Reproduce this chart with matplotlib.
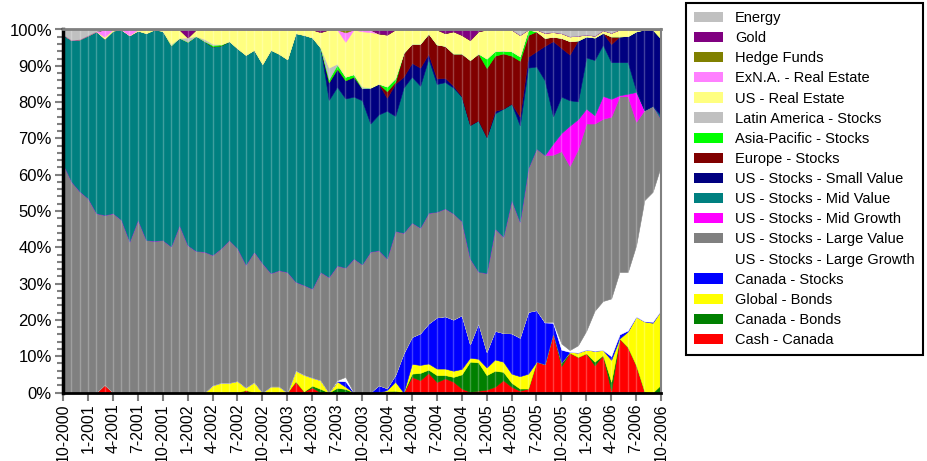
import numpy as np
import matplotlib
matplotlib.use("Agg")
import matplotlib.pyplot as plt
from matplotlib.patches import Patch

plt.rcParams['font.family'] = ['Liberation Sans', 'DejaVu Sans']

months = np.arange(73)  # 10-2000 .. 10-2006, monthly
tick_labels = ["10-2000", "1-2001", "4-2001", "7-2001", "10-2001", "1-2002", "4-2002",
               "7-2002", "10-2002", "1-2003", "4-2003", "7-2003", "10-2003", "1-2004",
               "4-2004", "7-2004", "10-2004", "1-2005", "4-2005", "7-2005", "10-2005",
               "1-2006", "4-2006", "7-2006", "10-2006"]

cash_canada = [
    0, 0, 0, 0, 0, 2.2, 0, 0, 0, 0, 0, 0,
    0, 0, 0, 0, 0, 0, 0, 0, 0, 0, 0.7, 0,
    0, 0, 0, 0, 3.1, 0.3, 1.4, 0, 0, 0, 0, 0,
    0, 0, 0, 0.4, 0, 0, 4.3, 3.4, 5.4, 2.9, 3.9, 3.0,
    1.1, 0.2, 0.5, 0.8, 1.6, 3.4, 1.6, 0.5, 1.1, 8.5, 7.8, 16.3,
    7.3, 11.0, 9.8, 10.8, 7.5, 10.3, 0.5, 14.9, 12.5, 7.5, 0.3, 0,
    0]
canada_bonds = [
    0, 0, 0, 0, 0, 0, 0, 0, 0, 0, 0, 0,
    0, 0, 0, 0, 0, 0, 0, 0, 0, 0, 0, 0,
    0, 0, 0, 0, 0, 0, 0.5, 1.0, 0, 1.3, 1.0, 0,
    0, 0, 0, 0, 0.5, 0, 0.9, 2.0, 0.9, 1.9, 0.9, 1.3,
    3.9, 8.3, 7.8, 4.0, 4.4, 2.3, 1.1, 0.6, 0, 0, 0, 0,
    0.9, 0, 0, 0, 1.0, 0, 2.5, 0, 0, 0, 0, 0,
    2.2]
global_bonds = [
    0, 0, 0, 0, 0, 0, 0, 0, 0, 0, 0, 0,
    0, 0, 0, 0, 0, 0, 2.0, 2.7, 2.7, 3.2, 0.7, 2.9,
    0, 1.7, 1.7, 0, 3.0, 4.6, 2.2, 2.4, 0, 1.8, 0.6, 0,
    0, 0, 0, 0.3, 2.5, 0, 2.7, 2.2, 1.7, 1.8, 1.8, 1.7,
    1.5, 1.1, 1.0, 2.1, 3.1, 2.8, 2.5, 3.4, 4.1, 0, 0, 0,
    0, 0.2, 1.2, 1.0, 3.0, 1.4, 6.0, 0, 4.3, 13.4, 19.3, 19.2,
    20.5]
canada_stocks = [
    0, 0, 0, 0, 0, 0, 0, 0, 0, 0, 0, 0,
    0, 0, 0, 0, 0, 0, 0, 0, 0, 0, 0, 0,
    0, 0, 0, 0, 0, 0, 0, 0, 0, 0.1, 1.5, 0,
    0, 0, 2.0, 0.5, 1.8, 10.8, 7.4, 8.7, 11.0, 14.1, 14.4, 14.1,
    14.8, 3.7, 9.8, 4.3, 7.9, 7.9, 11.1, 10.6, 17.0, 14.2, 11.5, 2.9,
    3.6, 0, 0, 0, 0, 0, 1.0, 1.1, 0.3, 0, 0, 0.3,
    0]
us_large_growth = [
    0, 0, 0, 0, 0, 0, 0, 0, 0, 0, 0, 0,
    0, 0, 0, 0, 0, 0, 0, 0, 0, 0, 0, 0,
    0, 0, 0, 0, 0, 0, 0, 0, 0, 0.2, 1.2, 0,
    0, 0, 0, 0, 0, 0, 0, 0, 0, 0, 0, 0,
    0, 0, 0, 0, 0, 0, 0, 0, 0, 0, 0.1, 0.3,
    1.7, 0.5, 2.0, 5.2, 11.0, 13.5, 15.9, 17.2, 16.1, 19.6, 33.4, 35.8,
    39.8]
us_large_value = [
    63.0, 58.1, 55.4, 53.5, 49.4, 46.7, 49.4, 47.6, 41.6, 47.6, 42.0, 41.8,
    42.0, 40.2, 46.1, 40.6, 39.0, 38.8, 35.9, 37.0, 39.3, 36.5, 33.8, 35.9,
    35.6, 31.2, 32.0, 33.2, 24.4, 24.7, 24.5, 29.8, 31.8, 31.6, 30.1, 36.9,
    35.3, 38.8, 37.2, 35.7, 39.7, 33.2, 31.5, 29.1, 30.5, 29.1, 29.7, 29.2,
    25.9, 23.6, 14.2, 21.7, 28.2, 26.5, 36.7, 31.9, 39.6, 44.5, 46.0, 46.0,
    53.0, 50.7, 54.0, 57.1, 51.6, 50.2, 50.1, 48.4, 48.4, 34.1, 24.8, 23.7,
    12.7]
us_mid_growth = [
    0, 0, 0, 0, 0, 0, 0, 0, 0, 0, 0, 0,
    0, 0, 0, 0, 0, 0, 0, 0, 0, 0, 0, 0,
    0, 0, 0, 0, 0, 0, 0, 0, 0, 0, 0, 0,
    0, 0, 0, 0, 0, 0, 0, 0, 0, 0, 0, 0,
    0, 0, 0, 0, 0, 0, 0, 0, 0, 0, 0, 3.1,
    5.0, 11.1, 8.3, 4.1, 2.3, 6.3, 4.9, 0.3, 0.7, 8.2, 0, 0,
    0]
us_mid_value = [
    35.6, 39.0, 41.9, 44.9, 50.1, 48.6, 50.3, 52.4, 56.8, 52.1, 57.0, 58.2,
    57.6, 55.3, 51.6, 56.0, 59.2, 58.0, 57.4, 55.9, 54.8, 55.1, 57.8, 55.6,
    54.9, 61.5, 59.6, 58.6, 68.5, 68.9, 69.2, 61.8, 48.8, 49.2, 46.6, 44.6,
    45.2, 35.3, 37.4, 40.7, 31.7, 40.0, 40.2, 39.1, 42.5, 35.2, 34.8, 34.7,
    34.3, 36.8, 41.7, 37.5, 31.7, 35.3, 26.6, 26.6, 27.7, 22.6, 20.6, 7.5,
    10.0, 7.0, 4.9, 14.1, 15.2, 14.1, 10.1, 9.1, 8.7, 0.4, 0, 0,
    1.0]
us_small_value = [
    0, 0, 0, 0, 0, 0, 0, 0, 0, 0, 0, 0,
    0, 0, 0, 0, 0, 0, 0, 0, 0, 0, 0, 0,
    0, 0, 0, 0, 0, 0, 0, 0, 4.9, 5.0, 5.0, 5.5,
    3.3, 9.9, 8.5, 3.6, 8.9, 3.0, 3.8, 5.0, 1.3, 1.5, 1.2, 0.5,
    0.1, 0, 0, 0, 0.7, 0, 0, 2.4, 3.0, 4.2, 9.5, 20.7,
    13.4, 12.6, 16.8, 5.8, 6.2, 3.3, 5.0, 7.1, 7.2, 16.3, 22.2, 21.0,
    21.3]
europe_stocks = [
    0, 0, 0, 0, 0, 0, 0, 0, 0, 0, 0, 0,
    0, 0, 0, 0, 0, 0, 0, 0, 0, 0, 0, 0,
    0, 0, 0, 0, 0, 0, 0, 0, 0, 0, 0, 0,
    0, 0, 0, 1.8, 0.5, 6.6, 5.3, 6.6, 5.6, 9.4, 8.8, 8.9,
    11.8, 17.9, 18.4, 19.0, 15.2, 15.2, 13.2, 15.4, 6.0, 5.5, 2.2, 1.2,
    2.8, 3.7, 0, 0, 0, 0, 2.1, 0, 0, 0, 0, 0,
    0]
asia_pacific = [
    0, 0, 0, 0, 0, 0, 0, 0, 0, 0, 0, 0,
    0, 0, 0, 0, 0, 0, 0.4, 0.3, 0, 0, 0, 0,
    0, 0, 0, 0, 0, 0, 0, 0, 0.8, 1.1, 1.0, 0.7,
    0, 0, 0, 1.3, 1.0, 0, 0, 0, 0, 0, 0, 0,
    0, 0, 0, 2.6, 1.3, 0.8, 1.2, 1.2, 1.5, 0, 0, 0,
    0, 0, 0, 0, 0, 0, 0, 0, 0, 0, 0, 0,
    0]
latin_america = [
    0, 0, 0, 0, 0, 0, 0, 0, 0, 0, 0, 0,
    0, 0.4, 0, 1.2, 0, 0.6, 0.4, 0, 0, 0, 0, 0,
    0, 0, 0, 0, 0, 0, 0, 0, 3.2, 0.3, 0, 0,
    0.5, 0, 0, 0, 0, 0, 0, 0, 0, 0, 0, 0,
    0, 0, 0, 0, 0, 0, 0, 0, 0, 0, 0, 0,
    0, 0, 0, 0, 0, 0, 0, 0, 0, 0, 0, 0,
    0]
us_real_estate = [
    0, 0, 0, 0, 0, 0.5, 0.3, 0, 0, 0.3, 1.0, 0,
    0.4, 4.0, 2.3, 0, 1.8, 2.6, 3.9, 4.1, 3.2, 5.2, 7.0, 5.6,
    9.5, 5.6, 6.7, 8.2, 1.0, 1.5, 2.2, 4.3, 10.5, 9.4, 9.6, 12.3,
    15.2, 15.3, 13.8, 14.3, 13.4, 6.4, 3.9, 3.9, 1.1, 4.1, 3.5, 6.1,
    5.1, 5.5, 6.1, 8.0, 5.9, 5.8, 6.0, 5.9, 0, 0.5, 1.4, 1.3,
    1.3, 1.3, 1.3, 0.5, 0.5, 0.7, 1.0, 1.9, 1.8, 0.5, 0, 0,
    2.5]
exna_real_estate = [
    0, 0, 0, 0, 0, 2.0, 0, 0, 1.6, 0, 0, 0,
    0, 0, 0, 0, 0, 0, 0, 0, 0, 0, 0, 0,
    0, 0, 0, 0, 0, 0, 0, 0, 0, 0, 2.6, 0,
    0.5, 0.7, 0, 0, 0, 0, 0, 0, 0, 0, 0, 0,
    0, 0, 0, 0, 0, 0, 0, 0, 0, 0, 0, 0,
    0, 0, 0, 0, 0, 0, 0, 0, 0, 0, 0, 0,
    0]
hedge_funds = [
    0, 0, 0, 0, 0, 0, 0, 0, 0, 0, 0, 0,
    0, 0, 0, 0, 0, 0, 0, 0, 0, 0, 0, 0,
    0, 0, 0, 0, 0, 0, 0, 0, 0, 0, 0.8, 0,
    0, 0, 0, 0, 0, 0, 0, 0, 0, 0, 0, 0,
    0, 0, 0, 0, 0, 0, 0, 0, 0, 0, 0, 0,
    0, 0, 0, 0, 0, 0, 0, 0, 0, 0, 0, 0,
    0]
gold = [
    0, 0, 0, 0, 0, 0, 0, 0, 0, 0, 0, 0,
    0, 0, 0, 2.2, 0, 0, 0, 0, 0, 0, 0, 0,
    0, 0, 0, 0, 0, 0, 0, 0.7, 0, 0, 0, 0,
    0, 0, 1.1, 1.4, 0, 0, 0, 0, 0, 0, 1.0, 0.5,
    1.5, 2.9, 0.5, 0, 0, 0, 0, 0, 0, 0, 0, 0,
    0, 0, 0, 0, 0, 0, 0, 0, 0, 0, 0, 0,
    0]
energy = [
    1.4, 2.9, 2.7, 1.6, 0.5, 0, 0, 0, 0, 0, 0, 0,
    0, 0, 0, 0, 0, 0, 0, 0, 0, 0, 0, 0,
    0, 0, 0, 0, 0, 0, 0, 0, 0, 0, 0, 0,
    0, 0, 0, 0, 0, 0, 0, 0, 0, 0, 0, 0,
    0, 0, 0, 0, 0, 0, 0, 1.5, 0, 0, 0.9, 0.7,
    1.0, 1.9, 1.7, 1.4, 1.7, 0.2, 0.9, 0, 0, 0, 0, 0,
    0]

series_names = ["Cash - Canada", "Canada - Bonds", "Global - Bonds", "Canada - Stocks",
                "US - Stocks - Large Growth", "US - Stocks - Large Value",
                "US - Stocks - Mid Growth", "US - Stocks - Mid Value",
                "US - Stocks - Small Value", "Europe - Stocks", "Asia-Pacific - Stocks",
                "Latin America - Stocks", "US - Real Estate", "ExN.A. - Real Estate",
                "Hedge Funds", "Gold", "Energy"]
series_values = [cash_canada, canada_bonds, global_bonds, canada_stocks, us_large_growth,
                 us_large_value, us_mid_growth, us_mid_value, us_small_value, europe_stocks,
                 asia_pacific, latin_america, us_real_estate, exna_real_estate, hedge_funds,
                 gold, energy]
series_colors = ["#FF0000", "#008000", "#FFFF00", "#0000FF", "#FFFFFF", "#808080",
                 "#FF00FF", "#008080", "#000080", "#800000", "#00FF00", "#C0C0C0",
                 "#FFFF80", "#FF80FF", "#808000", "#800080", "#C0C0C0"]

vals = np.array(series_values, dtype=float)
vals = vals / vals.sum(axis=0) * 100.0   # 100% stacked

W, H = 927, 461
fig = plt.figure(figsize=(W / 100, H / 100), dpi=100)
ax = fig.add_axes([63 / W, 1 - 392.5 / H, 598 / W, 363 / H])

polys = ax.stackplot(months, vals, colors=series_colors)
for p, c in zip(polys, series_colors):
    p.set_edgecolor(c)
    p.set_linewidth(0.4)

for m in months:
    ax.axvline(m, color="white", alpha=0.25, lw=1.0, zorder=3)

ax.set_xlim(0, 72)
ax.set_ylim(0, 100)

ax.set_yticks(np.arange(0, 101, 10))
ax.set_yticklabels([f"{v}%" for v in range(0, 101, 10)], fontsize=12)
ax.set_yticks(np.arange(0, 101, 2), minor=True)
ax.set_xticks(months[::3])
ax.set_xticklabels(tick_labels, rotation=90, fontsize=11.5)

ax.tick_params(axis="both", which="major", direction="out", length=6, width=1.5,
               color="#808080", pad=2)
ax.tick_params(axis="y", which="minor", direction="out", length=4, width=1.5,
               color="#808080")

ax.spines["left"].set_color("black")
ax.spines["left"].set_linewidth(2.5)
ax.spines["bottom"].set_color("black")
ax.spines["bottom"].set_linewidth(2.0)
ax.spines["top"].set_color("#808080")
ax.spines["top"].set_linewidth(2.0)
ax.spines["right"].set_color("#808080")
ax.spines["right"].set_linewidth(1.5)
for s in ax.spines.values():
    s.set_zorder(5)

handles = [Patch(facecolor=c, edgecolor="none") for c in series_colors][::-1]
labels = series_names[::-1]
leg = fig.legend(handles, labels, loc="upper left",
                 bbox_to_anchor=(686 / W, 1 - 3 / H), frameon=True, fancybox=False,
                 edgecolor="black", framealpha=1, fontsize=10.5, handlelength=2.0,
                 handleheight=0.7, labelspacing=0.42, borderpad=0.55,
                 handletextpad=0.8, borderaxespad=0)
leg.get_frame().set_linewidth(1.5)

fig.savefig("out.png", dpi=100)
